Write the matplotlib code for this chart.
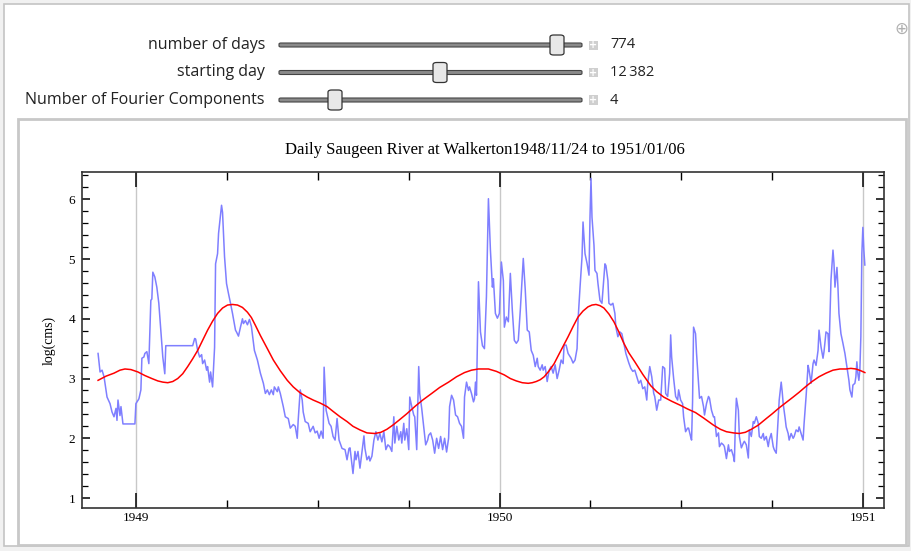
import numpy as np
import matplotlib.pyplot as plt
from matplotlib.patches import Rectangle, FancyBboxPatch

# daily log flow (day index from 1948/11/24)
flow_days = [0, 2, 4, 6, 9, 12, 14, 16, 18, 19, 20, 22, 23, 25, 37, 38, 41, 43, 44, 46,
             47, 49, 51, 53, 54, 55, 57, 59, 61, 63, 65, 67, 68, 95, 97, 98, 100, 102, 104, 105,
             107, 109, 110, 112, 113, 115, 117, 118, 120, 121, 124, 125, 127, 129, 131, 133, 135, 138, 139, 141,
             143, 145, 146, 148, 150, 152, 154, 157, 160, 163, 166, 168, 170, 172, 174, 176, 177, 180, 181, 183,
             186, 188, 191, 193, 196, 198, 200, 201, 203, 205, 206, 208, 211, 213, 216, 218, 220, 222, 224, 226,
             227, 229, 232, 234, 236, 238, 240, 242, 245, 248, 250, 252, 253, 256, 258, 259, 261, 263, 265, 267,
             268, 270, 272, 273, 275, 277, 279, 281, 283, 285, 287, 289, 291, 293, 295, 297, 298, 300, 302, 304,
             305, 307, 308, 310, 312, 313, 315, 317, 318, 320, 322, 323, 325, 327, 329, 331, 332, 334, 336, 338,
             340, 342, 344, 346, 348, 350, 352, 353, 355, 357, 359, 361, 363, 365, 367, 368, 370, 372, 373, 375,
             377, 378, 379, 380, 382, 384, 386, 388, 390, 392, 394, 396, 397, 399, 401, 403, 405, 407, 408, 410,
             412, 414, 416, 418, 420, 422, 424, 427, 429, 431, 433, 435, 437, 439, 441, 442, 444, 446, 447, 449,
             451, 453, 455, 457, 459, 461, 463, 465, 467, 468, 470, 472, 475, 477, 479, 481, 482, 484, 486, 487,
             489, 491, 493, 494, 495, 496, 498, 499, 501, 502, 504, 506, 507, 509, 510, 512, 513, 515, 517, 519,
             520, 522, 524, 526, 528, 530, 532, 533, 535, 537, 539, 541, 543, 545, 547, 549, 551, 552, 554, 556,
             558, 559, 561, 563, 565, 567, 569, 570, 572, 574, 575, 576, 578, 580, 582, 583, 585, 587, 588, 590,
             592, 593, 595, 596, 597, 598, 600, 601, 603, 604, 606, 608, 609, 611, 613, 614, 616, 618, 619, 621,
             623, 624, 626, 628, 629, 631, 633, 634, 636, 638, 639, 640, 641, 643, 644, 646, 648, 649, 651, 653,
             654, 656, 658, 659, 661, 663, 664, 666, 668, 669, 671, 673, 674, 676, 678, 679, 681, 683, 684, 686,
             687, 688, 690, 691, 693, 694, 696, 698, 699, 701, 703, 704, 706, 708, 709, 711, 713, 714, 716, 718,
             719, 721, 723, 724, 726, 728, 729, 731, 733, 734, 736, 738, 739, 740, 742, 743, 744, 746, 748, 750,
             752, 754, 755, 757, 758, 760, 761, 762, 763, 764, 765, 766, 767, 768, 769, 770]
flow_vals = [3.42, 3.11, 3.14, 3.03, 2.69, 2.58, 2.44, 2.36, 2.50, 2.30, 2.64, 2.38, 2.53, 2.24, 2.24, 2.58, 2.66, 2.81, 3.34, 3.36,
             3.42, 3.45, 3.25, 4.31, 4.33, 4.78, 4.70, 4.53, 4.26, 3.81, 3.36, 3.08, 3.55, 3.55, 3.67, 3.66, 3.47, 3.36, 3.40, 3.25,
             3.31, 3.14, 3.20, 2.94, 3.11, 2.86, 3.52, 4.92, 5.09, 5.43, 5.90, 5.78, 5.04, 4.59, 4.42, 4.26, 4.09, 3.81, 3.78, 3.71,
             3.86, 4.00, 3.92, 3.97, 3.90, 3.99, 3.87, 3.47, 3.31, 3.09, 2.92, 2.75, 2.81, 2.73, 2.81, 2.73, 2.86, 2.78, 2.86, 2.75,
             2.53, 2.36, 2.33, 2.17, 2.23, 2.20, 2.00, 2.31, 2.81, 2.64, 2.44, 2.28, 2.25, 2.11, 2.20, 2.09, 2.12, 2.00, 2.12, 2.00,
             3.19, 2.47, 2.25, 2.20, 2.03, 1.97, 2.33, 1.97, 1.83, 1.81, 1.64, 1.83, 1.84, 1.41, 1.78, 1.64, 1.78, 1.50, 1.77, 2.04,
             1.83, 1.64, 1.70, 1.62, 1.70, 1.97, 2.11, 1.97, 2.08, 1.94, 2.11, 1.81, 1.89, 1.86, 1.78, 2.36, 1.92, 2.20, 1.97, 2.11,
             1.92, 2.25, 1.97, 2.16, 1.81, 2.69, 2.53, 2.39, 2.36, 1.81, 3.20, 2.75, 2.50, 2.20, 1.89, 1.97, 2.05, 2.09, 1.97, 1.75,
             2.00, 1.83, 2.03, 1.81, 2.00, 1.77, 2.00, 2.53, 2.72, 2.64, 2.39, 2.36, 2.25, 2.20, 2.00, 2.69, 2.94, 2.80, 2.86, 2.75,
             2.61, 2.66, 2.94, 2.72, 4.62, 3.78, 3.55, 3.50, 4.37, 6.01, 5.15, 4.53, 4.67, 4.09, 4.01, 4.09, 4.95, 4.64, 3.86, 4.03,
             3.95, 4.76, 4.14, 3.64, 3.59, 3.64, 4.14, 5.01, 4.48, 3.81, 3.78, 3.47, 3.39, 3.20, 3.34, 3.20, 3.14, 3.23, 3.14, 3.20,
             2.95, 3.14, 3.20, 3.09, 3.23, 3.00, 3.14, 3.31, 3.25, 3.56, 3.56, 3.42, 3.34, 3.26, 3.31, 3.50, 3.98, 4.53, 5.04, 5.62,
             5.09, 4.93, 4.73, 5.70, 6.35, 5.70, 5.23, 4.81, 4.76, 4.59, 4.31, 4.26, 4.48, 4.92, 4.89, 4.64, 4.26, 4.23, 4.26, 4.09,
             3.86, 3.70, 3.78, 3.75, 3.59, 3.42, 3.31, 3.26, 3.17, 3.12, 3.14, 3.03, 2.92, 2.97, 2.83, 2.86, 2.64, 2.92, 3.20, 3.03,
             2.75, 2.70, 2.47, 2.64, 2.64, 3.20, 3.17, 2.75, 2.70, 3.09, 3.73, 3.36, 3.00, 2.70, 2.64, 2.81, 2.64, 2.58, 2.36, 2.11,
             2.17, 2.17, 2.03, 1.97, 2.61, 3.86, 3.75, 3.42, 2.92, 2.67, 2.70, 2.53, 2.39, 2.58, 2.70, 2.67, 2.47, 2.36, 2.36, 2.03,
             2.09, 1.86, 1.92, 1.89, 1.86, 1.66, 1.89, 1.78, 1.81, 1.70, 1.61, 2.25, 2.67, 2.47, 2.03, 1.84, 1.92, 1.95, 1.89, 1.67,
             2.14, 2.03, 2.28, 2.25, 2.36, 2.25, 2.03, 2.00, 2.08, 1.97, 2.03, 1.86, 1.97, 2.08, 1.86, 1.81, 1.75, 2.36, 2.64, 2.94,
             2.78, 2.58, 2.33, 2.19, 2.08, 1.97, 2.08, 2.00, 2.03, 2.14, 2.11, 2.19, 2.08, 1.97, 2.25, 2.70, 3.22, 3.14, 2.92, 3.25,
             3.31, 3.22, 3.47, 3.81, 3.53, 3.34, 3.45, 3.78, 3.75, 3.45, 4.65, 5.15, 4.93, 4.53, 4.86, 4.53, 4.09, 3.75, 3.59, 3.42,
             3.20, 2.97, 2.81, 2.69, 2.89, 2.92, 3.03, 3.28, 3.08, 2.97, 3.14, 3.70, 5.09, 5.53, 5.15, 4.90]

# 4-component Fourier fit (red curve)
fit_days = [0, 8, 16, 22, 27, 33, 40, 47, 54, 60, 65, 70, 75, 80, 85, 90, 95, 100, 105, 110,
            115, 120, 125, 130, 135, 140, 145, 150, 154, 158, 163, 170, 176, 183, 190, 196, 203, 210, 216, 223,
            230, 236, 243, 250, 256, 263, 270, 278, 284, 290, 296, 302, 310, 318, 326, 335, 343, 352, 360, 368,
            375, 382, 392, 400, 408, 414, 420, 426, 432, 436, 440, 444, 448, 453, 458, 462, 467, 472, 477, 482,
            487, 492, 496, 500, 504, 508, 513, 518, 523, 528, 533, 539, 547, 555, 561, 568, 576, 585, 592, 600,
            608, 618, 625, 631, 638, 644, 650, 656, 663, 671, 677, 684, 691, 698, 704, 711, 717, 724, 731, 738,
            745, 751, 756, 761, 766, 770]
fit_vals = [2.97, 3.04, 3.09, 3.14, 3.16, 3.15, 3.11, 3.05, 3.00, 2.96, 2.94, 2.93, 2.95, 3.00, 3.08, 3.20, 3.33, 3.47, 3.64, 3.81,
            3.96, 4.09, 4.18, 4.23, 4.24, 4.23, 4.19, 4.11, 4.02, 3.89, 3.72, 3.50, 3.31, 3.13, 2.97, 2.86, 2.76, 2.69, 2.64, 2.59,
            2.53, 2.45, 2.36, 2.28, 2.20, 2.14, 2.09, 2.08, 2.10, 2.15, 2.22, 2.30, 2.41, 2.53, 2.64, 2.75, 2.85, 2.94, 3.03, 3.10,
            3.14, 3.16, 3.16, 3.12, 3.06, 3.00, 2.96, 2.93, 2.92, 2.93, 2.95, 2.98, 3.03, 3.13, 3.25, 3.38, 3.54, 3.70, 3.87, 4.03,
            4.13, 4.20, 4.23, 4.24, 4.22, 4.18, 4.08, 3.95, 3.78, 3.59, 3.43, 3.28, 3.07, 2.88, 2.78, 2.69, 2.62, 2.55, 2.49, 2.43,
            2.34, 2.22, 2.15, 2.11, 2.09, 2.08, 2.10, 2.15, 2.22, 2.33, 2.41, 2.51, 2.60, 2.69, 2.77, 2.87, 2.95, 3.03, 3.09, 3.14,
            3.16, 3.16, 3.17, 3.16, 3.13, 3.10]

year_ticks = [1949, 1950, 1951]
start_year = 1948 + 328 / 366

slider_labels = ["number of days", "starting day", "Number of Fourier Components"]
slider_values = ["774", "12\u2009382", "4"]
slider_knob_px = [557, 440, 335]

W, H = 912, 551


def fx(px):
    return px / W


def fy(py):
    return 1 - py / H


fig = plt.figure(figsize=(W / 100, H / 100), dpi=100, facecolor="white")

# panel frames
fig.patches.append(Rectangle((0, 0), 1, 1, transform=fig.transFigure,
                             facecolor="#f1f1f1", edgecolor="none", zorder=0))
fig.patches.append(Rectangle((fx(4), fy(546)), fx(905), fy(4) - fy(546), transform=fig.transFigure,
                             facecolor="white", edgecolor="#c4c4c4", lw=1.2, zorder=0.5))
fig.patches.append(Rectangle((fx(18), fy(545)), fx(906) - fx(18), fy(119) - fy(545),
                             transform=fig.transFigure, facecolor="white",
                             edgecolor="#c8c8c8", lw=2, zorder=1))

# sliders
for i, (lab, val, knob) in enumerate(zip(slider_labels, slider_values, slider_knob_px)):
    yy = 45 + i * 27.5
    fig.text(fx(265), fy(yy), lab, ha="right", va="center", fontsize=11.5,
             family="Open Sans", color="#222222")
    fig.patches.append(FancyBboxPatch((fx(279), fy(yy + 2)), fx(582) - fx(279), fy(yy - 2) - fy(yy + 2),
                                      boxstyle="round,pad=0,rounding_size=0.002",
                                      transform=fig.transFigure, facecolor="#8a8a8a",
                                      edgecolor="#444444", lw=0.8, zorder=2))
    fig.patches.append(FancyBboxPatch((fx(knob - 7), fy(yy + 10)), fx(14), fy(yy - 10) - fy(yy + 10),
                                      boxstyle="round,pad=0,rounding_size=0.004",
                                      transform=fig.transFigure, facecolor="#e8e8e8",
                                      edgecolor="#333333", lw=0.9, zorder=3))
    fig.patches.append(Rectangle((fx(589), fy(yy + 4.5)), fx(9), fy(yy - 4.5) - fy(yy + 4.5),
                                 transform=fig.transFigure, facecolor="#cfcfcf",
                                 edgecolor="none", zorder=2))
    fig.text(fx(593.5), fy(yy), "+", ha="center", va="center", fontsize=7,
             color="white", weight="bold")
    fig.text(fx(610), fy(yy), val, ha="left", va="center", fontsize=10.5,
             family="Open Sans", color="#222222")

fig.text(fx(901), fy(29), "\u2295", ha="center", va="center", fontsize=12, color="#b0b0b0")

ax = fig.add_axes([fx(82), fy(508), fx(884) - fx(82), fy(172) - fy(508)])
ax.set_zorder(5)

flow_x = start_year + np.array(flow_days) / 365.25
fit_x = start_year + np.array(fit_days) / 365.25

for yr in year_ticks:
    ax.axvline(yr, color="#c8c8c8", lw=1, zorder=0)

ax.plot(flow_x, flow_vals, color="#7f7fff", lw=1.1, zorder=2)
ax.plot(fit_x, fit_vals, color="red", lw=1.1, zorder=3)

ax.set_xlim(1948.852, 1951.057)
ax.set_ylim(0.833, 6.457)

ax.set_xticks(year_ticks)
ax.set_xticks([y + q for y in [1949, 1950] for q in (0.25, 0.5, 0.75)], minor=True)
ax.set_yticks(range(1, 7))
ax.set_yticks(np.arange(1, 6.45, 0.2), minor=True)
ax.tick_params(axis="x", which="major", direction="in", length=11, width=1.1,
               top=True, labelsize=9.5, pad=3)
ax.tick_params(axis="x", which="minor", direction="in", length=6, width=1, top=True)
ax.tick_params(axis="y", which="major", direction="in", length=6, width=1.1,
               right=True, labelsize=9.5, pad=5)
ax.tick_params(axis="y", which="minor", direction="in", length=4, width=0.9, right=True)
for lbl in ax.get_xticklabels() + ax.get_yticklabels():
    lbl.set_family("Liberation Serif")
for sp in ax.spines.values():
    sp.set_linewidth(1.2)
    sp.set_color("#333333")

ax.set_ylabel("log(cms)", family="Liberation Serif", fontsize=10, labelpad=9)
fig.text(fx(485), fy(150), "Daily Saugeen River at Walkerton1948/11/24 to 1951/01/06",
         ha="center", va="center", family="Liberation Serif", fontsize=12)

fig.savefig("out.png", dpi=100)
